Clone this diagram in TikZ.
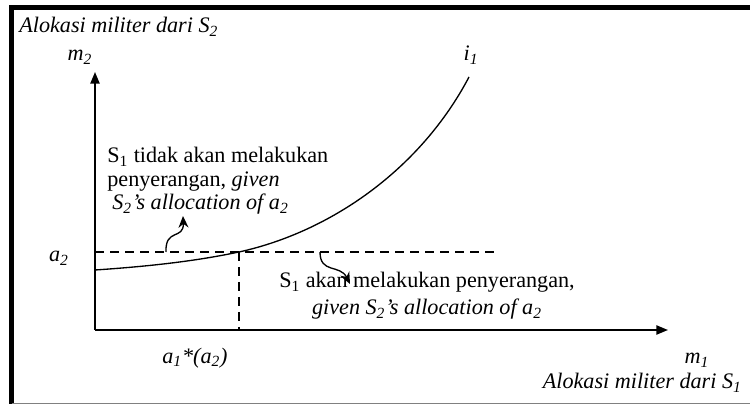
\documentclass[tikz,border=0pt]{standalone}
\usepackage{fontspec}
\setmainfont{Liberation Serif}
\usetikzlibrary{arrows.meta, positioning}

\begin{document}
\begin{tikzpicture}[
    x=0.6pt, y=-0.6pt,
    axis/.style={line width=1.1pt, -{Triangle[length=7pt, width=5.5pt]}},
    guide/.style={line width=0.9pt, dash pattern=on 5.5pt off 3.5pt},
    indiff/.style={line width=0.8pt},
    hint/.style={line width=0.8pt, -{Stealth[length=7pt, width=6pt]}},
    lbl/.style={font=\fontsize{13.3}{15}\selectfont\itshape, inner sep=0pt},
    note/.style={font=\fontsize{13.3}{14.1}\selectfont, inner sep=0pt}
]
\useasboundingbox (0,0) rectangle (750,405);

% frame
\draw[line width=3pt] (750,7.5) -- (11.5,7.5) -- (11.5,404);
\draw[gray, line width=0.6pt] (11.5,403.5) -- (750,403.5);

% axes
\coordinate (O) at (95,330);
\coordinate (ytip) at (95,72);
\coordinate (xtip) at (668,330);
\draw[axis] (O) -- (ytip);
\draw[axis] (O) -- (xtip);

% a2 level and a1*(a2)
\coordinate (a2L) at (95,252);
\coordinate (a2R) at (494,252);
\coordinate (cross) at (239,252);
\coordinate (foot) at (239,330);
\draw[guide] (a2L) -- (a2R);
\draw[guide] (cross) -- (foot);

% curve i1
\coordinate (cstart) at (95,270);
\coordinate (cend) at (469,77);
\draw[indiff] (cstart) .. controls (170,265) and (210,258) .. (cross)
    .. controls (330,232) and (420,170) .. (cend);

% labels
\node[lbl, anchor=west] (ylong) at (19,27) {Alokasi militer dari S\textsubscript{2}};
\node[lbl] (m2) at (80,57) {m\textsubscript{2}};
\node[lbl] (i1) at (471,55) {i\textsubscript{1}};
\node[lbl] (a2) at (59,258) {a\textsubscript{2}};
\node[lbl] (a1star) at (195,358) {a\textsubscript{1}*(a\textsubscript{2})};
\node[lbl] (m1) at (697,360) {m\textsubscript{1}};
\node[lbl, anchor=east] (xlong) at (742,383) {Alokasi militer dari S\textsubscript{1}};

\node[note, anchor=west, align=left] (above) at (107,181)
    {S\textsubscript{1} tidak akan melakukan\\
     penyerangan, \textit{given}\\
     \hspace{3pt}\textit{S\textsubscript{2}’s allocation of a\textsubscript{2}}};
\node[note, align=center, font=\fontsize{13.3}{16}\selectfont] (below) at (427,296)
    {S\textsubscript{1} akan melakukan penyerangan,\\
     \textit{given S\textsubscript{2}’s allocation of a\textsubscript{2}}};

% wavy pointers
\coordinate (upfrom) at (166,252);
\coordinate (upto) at (183,216);
\coordinate (downfrom) at (320,252);
\coordinate (downto) at (350,284);
\draw[hint] (upfrom) .. controls (165,228) and (184,240) .. (upto);
\draw[hint] (downfrom) .. controls (320,274) and (340,264) .. (downto);

\end{tikzpicture}
\end{document}
